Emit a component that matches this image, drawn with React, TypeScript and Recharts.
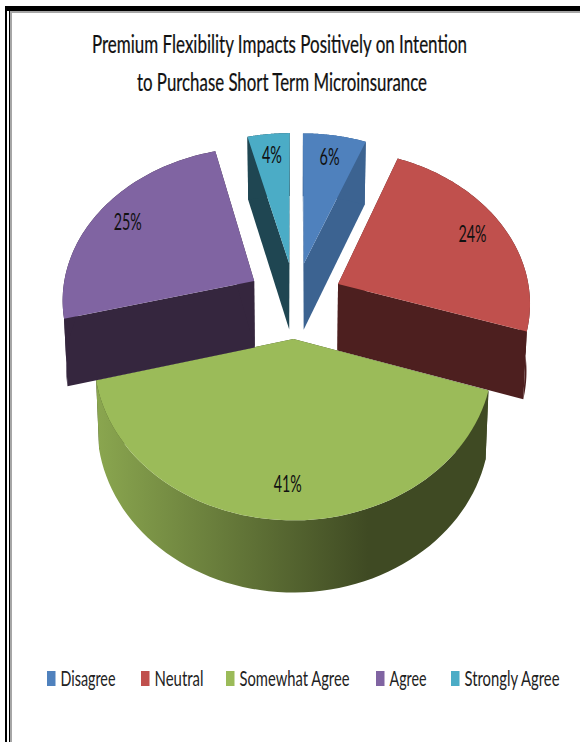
import React from 'react';
import { PieChart, Pie, Cell, Legend } from 'recharts';

const categories = ['Disagree', 'Neutral', 'Somewhat Agree', 'Agree', 'Strongly Agree'];
const percents = [6, 24, 41, 25, 4];
const titleLines = [
  'Premium Flexibility Impacts Positively on Intention',
  'to Purchase Short Term Microinsurance',
];

const topColors = ['#4f81bd', '#c0504d', '#9bbb59', '#8064a2', '#4bacc6'];
const wallColors = ['#3c6391', '#4d1f1f', 'url(#greenWall)', '#35263e', '#1f4652'];

// legend layout: swatch left edge and text width per entry
const legendX = [47, 141, 226, 376, 451];
const legendTextWidth = [55, 49, 110, 37, 95];

const FONT = 'Lato, Carlito, "Open Sans", sans-serif';

// 3D look: tilt flattens the disc, PERSPECTIVE shrinks the far side, EXPLODE pulls slices apart
const TILT = 0.79;
const PERSPECTIVE = 0.11;
const EXPLODE = 0.25;
const WALL = 67;
const rad = (deg: number) => (deg * Math.PI) / 180;

const project = (cx: number, cy: number, R: number, mid: number, theta: number, r: number) => {
  const X = r * Math.sin(rad(theta)) + EXPLODE * Math.sin(rad(mid));
  const Y = r * Math.cos(rad(theta)) + EXPLODE * Math.cos(rad(mid));
  const d = 1 + PERSPECTIVE * Y;
  return { x: cx + (R * X) / d, y: cy - (R * TILT * Y) / d, d };
};

const toPath = (pts: { x: number; y: number }[]) =>
  'M' + pts.map((p) => `${p.x.toFixed(2)},${p.y.toFixed(2)}`).join('L') + 'Z';

// one extruded slice, built from the angles the Pie computed
const Slice3D = (props: any) => {
  const { cx, cy, outerRadius: R, startAngle, endAngle, fill } = props;
  const from = 90 - startAngle;
  const to = 90 - endAngle;
  const mid = (from + to) / 2;
  const index = topColors.indexOf(fill);

  const lower = (p: { x: number; y: number; d: number }) => ({
    x: cx + (p.x - cx) * 0.985,
    y: p.y + WALL / Math.sqrt(p.d),
    d: p.d,
  });

  const steps = 64;
  const rim = [];
  for (let i = 0; i <= steps; i++) {
    rim.push(project(cx, cy, R, mid, from + ((to - from) * i) / steps, 1));
  }
  const apex = project(cx, cy, R, mid, mid, 0);
  const rimLow = rim.map(lower);
  const wall = wallColors[index];
  const faceColor = index === 2 ? '#3f4a23' : wall;

  return (
    <g>
      <path d={toPath([apex, rim[0], rimLow[0], lower(apex)])} fill={faceColor} />
      <path d={toPath([apex, rim[steps], rimLow[steps], lower(apex)])} fill={faceColor} />
      <path d={toPath([...rim, ...rimLow.slice().reverse()])} fill={wall} />
      <path d={toPath([apex, ...rim])} fill={fill} />
    </g>
  );
};

// narrow type: squeezed horizontally, then fitted to an exact on-screen width
const NarrowText = ({ x, y, width, size, squeeze, anchor, fill, heavy, children }: any) => (
  <text
    transform={`scale(${squeeze},1)`}
    x={x / squeeze}
    y={y}
    textAnchor={anchor}
    fontFamily={FONT}
    fontSize={size}
    fill={fill}
    stroke={heavy ? fill : undefined}
    strokeWidth={heavy ? 0.25 : undefined}
    textLength={width / squeeze}
    lengthAdjust="spacingAndGlyphs"
  >
    {children}
  </text>
);

const renderPercent = (props: any) => {
  const { cx, cy, outerRadius, midAngle, value } = props;
  const theta = 90 - midAngle;
  const p = project(cx, cy, outerRadius, theta, theta, 0.82);
  const text = `${value}%`;
  return (
    <NarrowText x={p.x} y={p.y + 8} width={text.length === 2 ? 20 : 28} size={23} squeeze={0.65} anchor="middle" fill="#111">
      {text}
    </NarrowText>
  );
};

const renderLegend = ({ payload }: any) => (
  <svg width={580} height={40} style={{ display: 'block' }}>
    {(payload || []).map((entry: any, i: number) => (
      <g key={entry.value}>
        <rect x={legendX[i]} y={11} width={8.5} height={15} fill={entry.color} />
        <NarrowText x={legendX[i] + 13.5} y={26} width={legendTextWidth[i]} size={21} squeeze={0.72} anchor="start" fill="#222">
          {entry.value}
        </NarrowText>
      </g>
    ))}
  </svg>
);

const data = categories.map((name, i) => ({ name, value: percents[i] }));

export default function App() {
  return (
    <div style={{ position: 'absolute', left: 0, top: 0, width: 580, height: 742, background: '#fff', overflow: 'hidden' }}>
      {/* page frame: double black rule with a grey inner shadow */}
      <div style={{ position: 'absolute', left: 5, top: 6, width: 2, height: 736, background: '#000' }} />
      <div style={{ position: 'absolute', left: 8.5, top: 8, width: 1.5, height: 734, background: '#000' }} />
      <div style={{ position: 'absolute', left: 10, top: 11, width: 1.5, height: 731, background: '#a6a6a6' }} />
      <div style={{ position: 'absolute', left: 5, top: 6, width: 575, height: 5, background: '#000' }} />
      <div style={{ position: 'absolute', left: 10, top: 11, width: 570, height: 2, background: '#a6a6a6' }} />

      <PieChart
        width={580}
        height={742}
        margin={{ top: 0, right: 0, bottom: 0, left: 0 }}
        style={{ position: 'absolute', left: 0, top: 0 }}
      >
        <defs>
          <linearGradient id="greenWall" gradientUnits="userSpaceOnUse" x1={97} y1={0} x2={368} y2={0}>
            <stop offset="0%" stopColor="#8aa64f" />
            <stop offset="100%" stopColor="#3f4a23" />
          </linearGradient>
        </defs>
        <NarrowText x={279.5} y={53} width={375} size={25} squeeze={0.7} anchor="middle" fill="#111" heavy>
          {titleLines[0]}
        </NarrowText>
        <NarrowText x={282} y={91} width={290} size={25} squeeze={0.7} anchor="middle" fill="#111" heavy>
          {titleLines[1]}
        </NarrowText>
        <Pie
          data={data}
          dataKey="value"
          nameKey="name"
          cx={295}
          cy={300}
          outerRadius={192.5}
          startAngle={90}
          endAngle={-270}
          stroke="none"
          shape={Slice3D}
          label={renderPercent}
          labelLine={false}
          isAnimationActive={false}
        >
          {categories.map((name, i) => (
            <Cell key={name} fill={topColors[i]} />
          ))}
        </Pie>
        <Legend
          content={renderLegend}
          itemSorter={null}
          wrapperStyle={{ position: 'absolute', left: 0, top: 660, width: 580, height: 40 }}
        />
      </PieChart>
    </div>
  );
}
